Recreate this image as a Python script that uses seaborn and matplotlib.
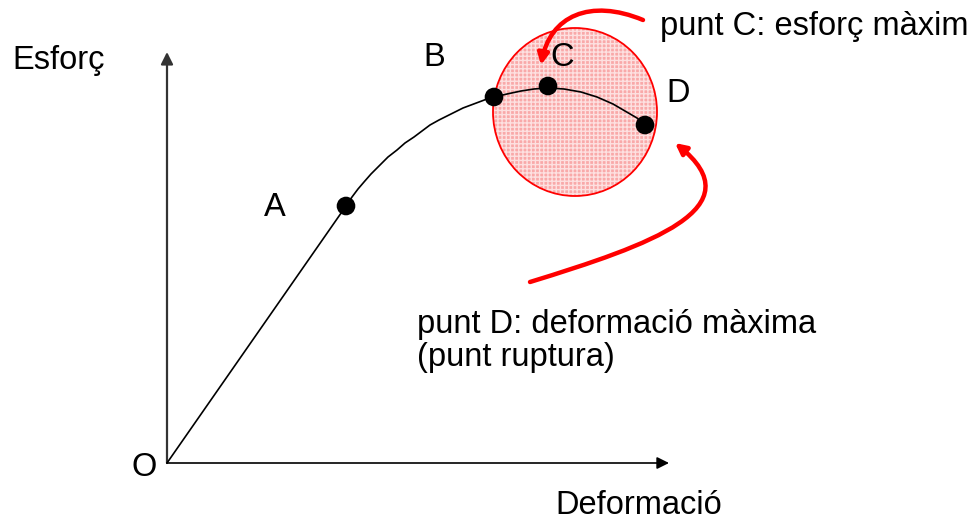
import numpy as np
import pandas as pd
import seaborn as sns
import matplotlib.pyplot as plt
from matplotlib.patches import Ellipse, FancyArrowPatch
from matplotlib.path import Path

# corba esforç-deformació (unitats arbitràries llegides del gràfic)
deformacio = [0, 179, 185, 191, 197, 204, 213, 221, 230, 238, 247, 255, 263, 272,
              280, 288, 296, 304, 312, 320, 327, 340, 354, 367, 381, 397, 414, 430,
              446, 458, 470, 478]
esforc = [0, 257, 266, 274, 281, 289, 298, 306, 313, 320, 326, 332, 338, 343,
          347, 351, 355, 358, 361, 364, 366, 369, 372, 374, 375, 374, 371, 366,
          359, 352, 345, 338]

# punts destacats
punts = ['A', 'B', 'C', 'D']
punts_x = [179, 327, 381, 478]
punts_y = [257, 366, 377, 338]

sns.set_theme(style='white')
plt.rcParams['font.family'] = ['Liberation Sans', 'DejaVu Sans']
plt.rcParams['text.color'] = 'black'

fig = plt.figure(figsize=(9.8, 5.2), dpi=100)
ax = fig.add_axes([0, 0, 1, 1])
ax.set_xlim(-167, 813)
ax.set_ylim(-57, 463)
ax.axis('off')

# zona dels punts C i D
zona = Ellipse((408, 351), 164, 168, facecolor='#f9a9a9', edgecolor='#fde0e0',
               hatch='++++', lw=0, zorder=1)
ax.add_patch(zona)
ax.add_patch(Ellipse((408, 351), 164, 168, facecolor='none', edgecolor='#ff0000',
                     lw=1.3, zorder=2))

# eixos
ax.annotate('', xy=(0, 411), xytext=(0, 0),
            arrowprops=dict(arrowstyle='-|>', color='#333333', lw=1.6,
                            mutation_scale=18, shrinkA=0, shrinkB=0), zorder=3)
ax.annotate('', xy=(502, 0), xytext=(0, 0),
            arrowprops=dict(arrowstyle='-|>', color='black', lw=1.2,
                            mutation_scale=18, shrinkA=0, shrinkB=0), zorder=3)

df = pd.DataFrame({'deformacio': deformacio, 'esforc': esforc})
sns.lineplot(data=df, x='deformacio', y='esforc', sort=False, estimator=None,
             color='black', lw=1.2, ax=ax, zorder=4)
sns.scatterplot(x=punts_x, y=punts_y, color='black', s=180, edgecolor='none',
                ax=ax, zorder=5)

fs = 23.5
ax.text(-155, 403, 'Esforç', fontsize=fs, va='center', ha='left')
ax.text(-36, -4, 'O', fontsize=fs, va='center', ha='left')
ax.text(472, -42, 'Deformació', fontsize=fs, va='center', ha='center')
ax.text(97, 256, 'A', fontsize=fs, va='center', ha='left')
ax.text(256, 406, 'B', fontsize=fs, va='center', ha='left')
ax.text(383, 406, 'C', fontsize=fs, va='center', ha='left')
ax.text(499, 369, 'D', fontsize=fs, va='center', ha='left')
ax.text(493, 436, 'punt C: esforç màxim', fontsize=fs, va='center', ha='left')
ax.text(250, 122, 'punt D: deformació màxima\n(punt ruptura)', fontsize=fs,
        va='center', ha='left', linespacing=1.12)

# fletxes vermelles
def fletxa(p0, p1, p2, p3):
    cami = Path([p0, p1, p2, p3], [Path.MOVETO, Path.CURVE4, Path.CURVE4, Path.CURVE4])
    ax.add_patch(FancyArrowPatch(path=cami, arrowstyle='-|>', color='#ff0000', lw=3.2,
                                 mutation_scale=16, zorder=6))

fletxa((476, 443), (423, 465), (383, 447), (374, 398))
fletxa((363, 181), (483, 218), (590, 255), (508, 320))

fig.savefig('out.png', dpi=100)
